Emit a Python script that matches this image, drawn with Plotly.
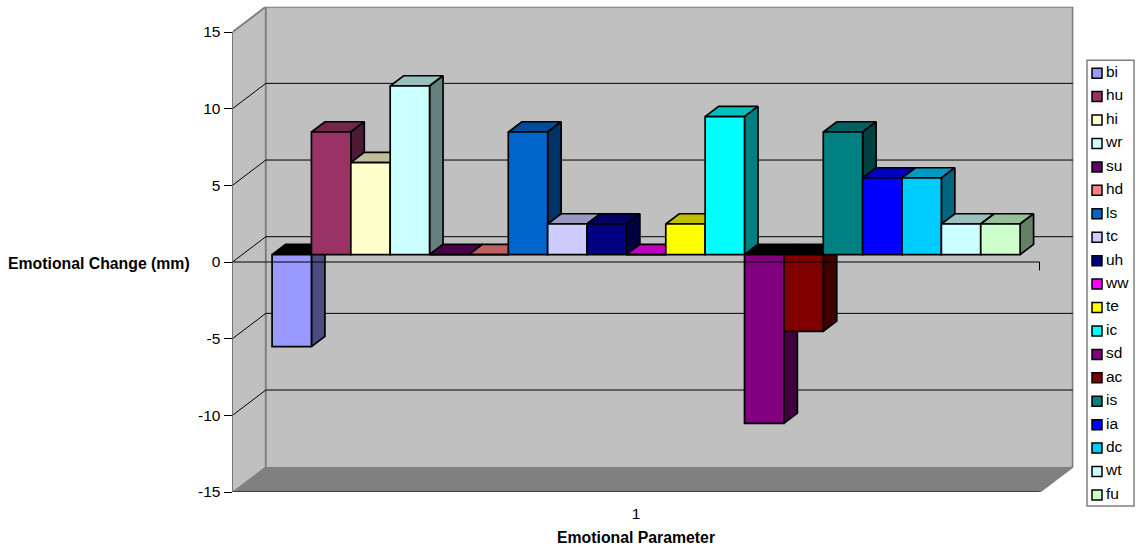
import plotly.graph_objects as go

names = ["bi","hu","hi","wr","su","hd","ls","tc","uh","ww","te","ic","sd","ac","is","ia","dc","wt","fu"]
values = [-6,8,6,11,0,0,8,2,2,0,2,9,-11,-5,8,5,5,2,2]
colors = ["#9999FF","#993366","#FFFFCC","#CCFFFF","#660066","#FF8080","#0066CC","#CCCCFF","#000080","#FF00FF",
          "#FFFF00","#00FFFF","#800080","#800000","#008080","#0000FF","#00CCFF","#CCFFFF","#CCFFCC"]
y_ticks = [-15,-10,-5,0,5,10,15]
y_tick_labels = ["-15","-10","-5","0","5","10","15"]
x_tick_label = "1"

W, H = 1136, 551
PX_UNIT_X = 39.37          # one bar slot, in pixels
PX_UNIT_Y = 15.333         # one mm, in pixels
LEFT, RIGHT_BACK = 232.5, 1073.5
BOTTOM, TOP_BACK = 492.0, 6.7
DEPTH_X = 33.3 / PX_UNIT_X
DEPTH_Y = 25.3 / PX_UNIT_Y
FLOOR_LEN = 807.0 / PX_UNIT_X
Y_MIN, Y_MAX = y_ticks[0], y_ticks[-1]
GAP = 0.76
Z0, Z1 = 0.29, 0.695       # depth span of the bars
EDGE = 1.7


def proj(x, y, z):
    return x + z * DEPTH_X, y + z * DEPTH_Y


def poly(pts, z):
    pp = [proj(*p, z_) for p, z_ in zip(pts, z)]
    return [p[0] for p in pp] + [pp[0][0]], [p[1] for p in pp] + [pp[0][1]]


def shade(hex_c, f):
    r, g, b = [int(hex_c[i:i + 2], 16) for i in (1, 3, 5)]
    return f"rgb({round(r*f)},{round(g*f)},{round(b*f)})"


fig = go.Figure()


def fill(xs, ys, color, line=None, lw=EDGE, zo=0):
    fig.add_trace(go.Scatter(x=xs, y=ys, mode="lines", fill="toself", fillcolor=color,
                             line=dict(color=line or color, width=lw if line else 0),
                             hoverinfo="skip", showlegend=False, zorder=zo))


def lines(segs, color, lw, zo, clip=True):
    xs, ys = [], []
    for seg in segs:
        for p in seg:
            xs.append(p[0]); ys.append(p[1])
        xs.append(None); ys.append(None)
    fig.add_trace(go.Scatter(x=xs, y=ys, mode="lines", line=dict(color=color, width=lw),
                             hoverinfo="skip", showlegend=False, zorder=zo, cliponaxis=clip))


# walls and floor
WALL = "#C0C0C0"
GREY = "#808080"
fill(*poly([(0, Y_MIN), (0, Y_MAX), (0, Y_MAX), (0, Y_MIN)], [0, 0, 1, 1]), WALL, zo=-10)
fill(*poly([(0, Y_MIN), (FLOOR_LEN, Y_MIN), (FLOOR_LEN, Y_MAX), (0, Y_MAX)], [1, 1, 1, 1]), WALL, zo=-10)
fill(*poly([(0, Y_MIN), (FLOOR_LEN, Y_MIN), (FLOOR_LEN, Y_MIN), (0, Y_MIN)], [0, 0, 1, 1]), GREY, zo=-9)
lines([[proj(0, Y_MAX, 0), proj(0, Y_MAX, 1), proj(FLOOR_LEN, Y_MAX, 1), proj(FLOOR_LEN, Y_MIN, 1), proj(FLOOR_LEN, Y_MIN, 0)],
       [proj(0, Y_MAX, 1), proj(0, Y_MIN, 1)]], GREY, 2, -8, clip=False)
grid = [v for v in y_ticks if v not in (Y_MIN, Y_MAX)]
lines([[proj(0, v, 0), proj(0, v, 1), proj(FLOOR_LEN, v, 1)] for v in grid], "black", 1, -7)
lines([[proj(0, Y_MIN, 0), proj(0, Y_MIN, 1)]], GREY, 1, -7)

# bars: each series is a real bar for the front face, with its top and side faces behind it
for i, (nm, v, c) in enumerate(zip(names, values, colors)):
    x0, x1 = GAP + i, GAP + i + 1
    hi, lo = max(v, 0), min(v, 0)
    fx0, base = proj(x0, 0, Z0)
    fx1 = fx0 + 1
    top_col = "#000000" if v < 0 else shade(c, 0.75)
    fill(*poly([(x0, hi), (x1, hi), (x1, hi), (x0, hi)], [Z0, Z0, Z1, Z1]), top_col, "black", zo=2 * i + 1)
    fill(*poly([(x1, lo), (x1, hi), (x1, hi), (x1, lo)], [Z0, Z0, Z1, Z1]), shade(c, 0.5), "black", zo=2 * i + 1)
    fig.add_trace(go.Bar(x=[(fx0 + fx1) / 2], y=[v], base=[base], width=1, name=nm,
                         marker=dict(color=c, line=dict(color="black", width=EDGE)),
                         showlegend=False, zorder=2 * i + 2))

# front axes lines
lines([[proj(0, Y_MIN, 0), proj(0, Y_MAX, 0)],
       [proj(0, 0, 0), proj(FLOOR_LEN, 0, 0), proj(FLOOR_LEN, -0.55, 0)],
       [proj(0, Y_MIN, 0), proj(FLOOR_LEN, Y_MIN, 0), proj(FLOOR_LEN, Y_MIN - 0.55, 0)],
       [proj(0, Y_MIN, 0), proj(0, Y_MIN - 0.55, 0)]], "black", 1, 100, clip=False)

# legend panel
fig.add_trace(go.Scatter(x=[10] * len(names), y=list(range(len(names))), mode="markers",
                         marker=dict(symbol="square", size=10, color=colors, line=dict(color="black", width=1.5)),
                         xaxis="x2", yaxis="y2", hoverinfo="skip", showlegend=False, cliponaxis=False, zorder=200))
fig.add_trace(go.Scatter(x=[19] * len(names), y=list(range(len(names))), mode="text",
                         text=names, textposition="middle right",
                         textfont=dict(size=15.5, color="black", family="Liberation Sans"),
                         xaxis="x2", yaxis="y2", hoverinfo="skip", showlegend=False, cliponaxis=False, zorder=200))

font = dict(family="Liberation Sans", size=15.5, color="black")
bold = dict(family="Liberation Sans", size=15.8, color="black")
fig.update_layout(
    width=W, height=H, margin=dict(l=0, r=0, t=0, b=0, autoexpand=False), paper_bgcolor="white", plot_bgcolor="rgba(0,0,0,0)",
    barmode="overlay", showlegend=False, font=font,
    xaxis=dict(domain=[LEFT / W, RIGHT_BACK / W], range=[0, (RIGHT_BACK - LEFT) / PX_UNIT_X], automargin=False,
               tickvals=[FLOOR_LEN / 2], ticktext=[x_tick_label], ticks="outside", ticklen=7, tickcolor="rgba(0,0,0,0)",
               showgrid=False, zeroline=False, showline=False, tickfont=font),
    yaxis=dict(domain=[(H - BOTTOM) / H, (H - TOP_BACK) / H], range=[Y_MIN, Y_MIN + (BOTTOM - TOP_BACK) / PX_UNIT_Y],
               automargin=False,
               tickvals=y_ticks, ticktext=y_tick_labels, ticks="outside", ticklen=8, tickwidth=1, tickcolor="black",
               showgrid=False, zeroline=False, showline=False, tickfont=font),
    xaxis2=dict(domain=[1087 / W, 1134 / W], range=[0, 47], showticklabels=False, ticks="", automargin=False,
                showgrid=False, zeroline=False, showline=False, anchor="y2"),
    yaxis2=dict(domain=[(H - 506) / H, (H - 60.3) / H], range=[18.47, -0.55], showticklabels=False, ticks="", automargin=False,
                showgrid=False, zeroline=False, showline=False, anchor="x2"),
    shapes=[dict(type="rect", xref="x2 domain", yref="y2 domain", x0=0, x1=1, y0=0, y1=1,
                 line=dict(color=GREY, width=1.5), fillcolor="white", layer="below")],
    annotations=[dict(text="<b>Emotional Change (mm)</b>", x=6 / W, y=(H - 263) / H, xref="paper", yref="paper",
                      xanchor="left", yanchor="middle", showarrow=False, font=bold),
                 dict(text="<b>Emotional Parameter</b>", x=636 / W, y=(H - 537) / H, xref="paper", yref="paper",
                      xanchor="center", yanchor="middle", showarrow=False, font=bold)],
)
fig.write_html("out.html", config=dict(displayModeBar=False), post_script="document.body.style.margin='0';")
